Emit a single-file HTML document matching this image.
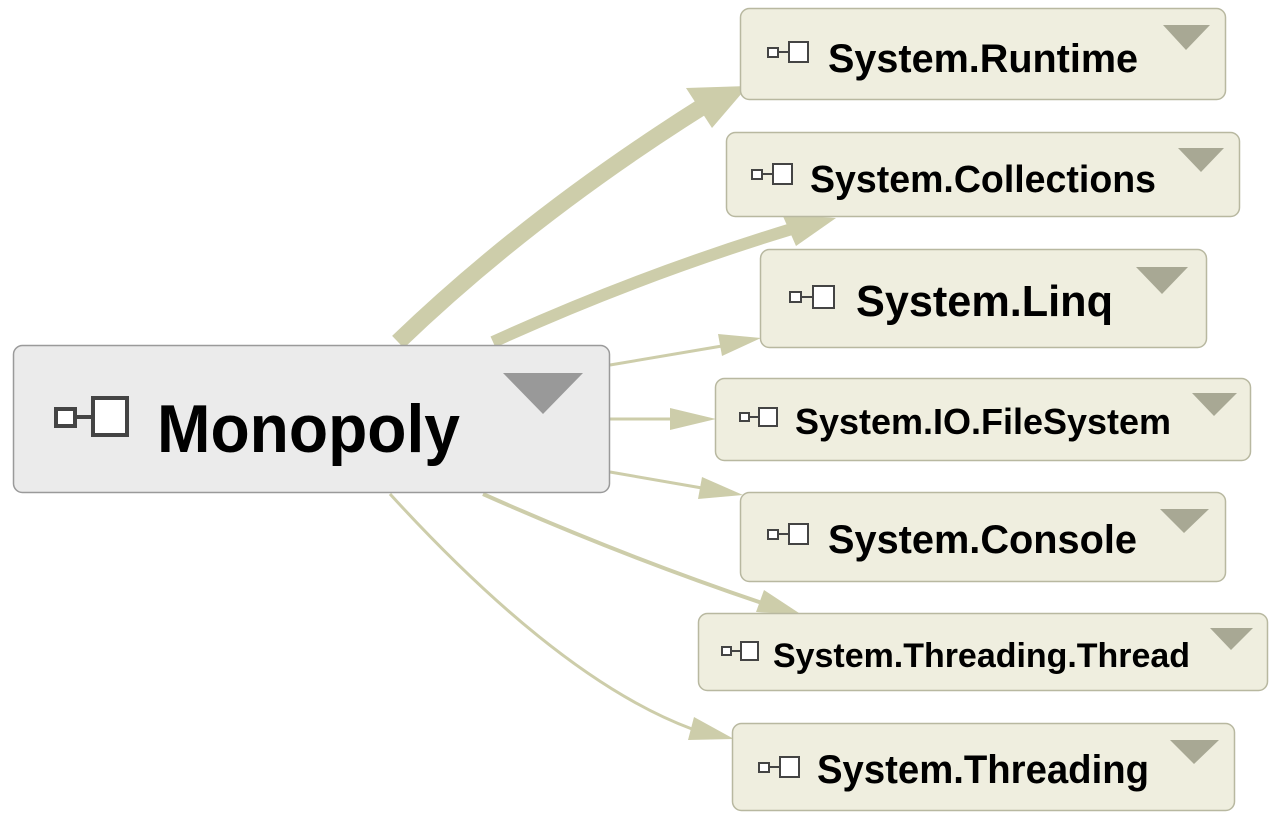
<!DOCTYPE html>
<html><head><meta charset="utf-8"><style>
html,body{margin:0;padding:0;background:#fff;width:1280px;height:818px;overflow:hidden}
text{font-family:"Liberation Sans",Arial,sans-serif;font-weight:bold;fill:#000}
</style></head><body>
<svg width="1280" height="818" viewBox="0 0 1280 818" xmlns="http://www.w3.org/2000/svg">
<g fill="none" stroke="#cdcdaa" stroke-linecap="butt">
<path d="M398,342 Q530,215 705,105" stroke-width="17"/>
<path d="M493,342 Q640,275 795,228" stroke-width="12"/>
<path d="M610,365 L722,346" stroke-width="3"/>
<path d="M610,419 L672,419" stroke-width="3"/>
<path d="M610,472 L702,488" stroke-width="3"/>
<path d="M483,494 Q620,555 762,603" stroke-width="4"/>
<path d="M390,494 Q560,680 692,729" stroke-width="3"/>
</g>
<g fill="#cdcdaa">
<polygon points="748,86 686,88 712,128"/>
<polygon points="836,218 782,214 796,246"/>
<polygon points="761,338 718,334 722,356"/>
<polygon points="716,419 670,408 670,430"/>
<polygon points="743,495 702,477 698,499"/>
<polygon points="802,615 764,590 756,612"/>
<polygon points="734,739 694,717 688,740"/>
</g>
<rect x="13.5" y="345.5" width="596" height="147" rx="9" fill="#ebebeb" stroke="#9a9a9a" stroke-width="1.5"/>
<polygon points="503,373 583,373 543,414" fill="#999"/>
<g stroke="#444" stroke-width="4" fill="#fff"><rect x="56" y="409" width="19" height="17"/><line x1="75" y1="417" x2="92" y2="417"/><rect x="93" y="398" width="34" height="37"/></g>
<text x="157" y="452" font-size="68" textLength="303" lengthAdjust="spacingAndGlyphs">Monopoly</text>
<g stroke="#b8b8a0" stroke-width="1.5" fill="#efeedf">
<rect x="740.5" y="8.5" width="485" height="91" rx="9"/>
<rect x="726.5" y="132.5" width="513" height="84" rx="9"/>
<rect x="760.5" y="249.5" width="446" height="98" rx="9"/>
<rect x="715.5" y="378.5" width="535" height="82" rx="9"/>
<rect x="740.5" y="492.5" width="485" height="89" rx="9"/>
<rect x="698.5" y="613.5" width="569" height="77" rx="9"/>
<rect x="732.5" y="723.5" width="502" height="87" rx="9"/>
</g>
<g fill="#a8a894">
<polygon points="1163,25 1210,25 1186,50"/>
<polygon points="1178,148 1224,148 1201,172"/>
<polygon points="1136,267 1188,267 1162,294"/>
<polygon points="1192,393 1237,393 1214,416"/>
<polygon points="1160,509 1209,509 1184,533"/>
<polygon points="1210,628 1253,628 1231,650"/>
<polygon points="1170,740 1219,740 1194,764"/>
</g>
<g stroke="#444" stroke-width="2" fill="#fff">
<rect x="768" y="48" width="10" height="9"/><line x1="778" y1="52" x2="788" y2="52"/><rect x="789" y="42" width="19" height="20"/>
<rect x="752" y="170" width="10" height="9"/><line x1="762" y1="174" x2="772" y2="174"/><rect x="773" y="164" width="19" height="20"/>
<rect x="790" y="292" width="11" height="10"/><line x1="801" y1="297" x2="812" y2="297"/><rect x="813" y="286" width="21" height="22"/>
<rect x="740" y="413" width="9" height="8"/><line x1="749" y1="417" x2="758" y2="417"/><rect x="759" y="408" width="18" height="18"/>
<rect x="768" y="530" width="10" height="9"/><line x1="778" y1="534" x2="788" y2="534"/><rect x="789" y="524" width="19" height="20"/>
<rect x="722" y="647" width="9" height="8"/><line x1="731" y1="651" x2="740" y2="651"/><rect x="741" y="642" width="17" height="18"/>
<rect x="759" y="763" width="10" height="9"/><line x1="769" y1="767" x2="779" y2="767"/><rect x="780" y="757" width="19" height="20"/>
</g>
<text x="828" y="72" font-size="40" textLength="310" lengthAdjust="spacingAndGlyphs">System.Runtime</text>
<text x="810" y="192" font-size="38" textLength="346" lengthAdjust="spacingAndGlyphs">System.Collections</text>
<text x="856" y="316" font-size="44" textLength="257" lengthAdjust="spacingAndGlyphs">System.Linq</text>
<text x="795" y="434" font-size="36" textLength="376" lengthAdjust="spacingAndGlyphs">System.IO.FileSystem</text>
<text x="828" y="553" font-size="40" textLength="309" lengthAdjust="spacingAndGlyphs">System.Console</text>
<text x="773" y="667" font-size="34" textLength="417" lengthAdjust="spacingAndGlyphs">System.Threading.Thread</text>
<text x="817" y="783" font-size="40" textLength="332" lengthAdjust="spacingAndGlyphs">System.Threading</text>
</svg>
</body></html>
